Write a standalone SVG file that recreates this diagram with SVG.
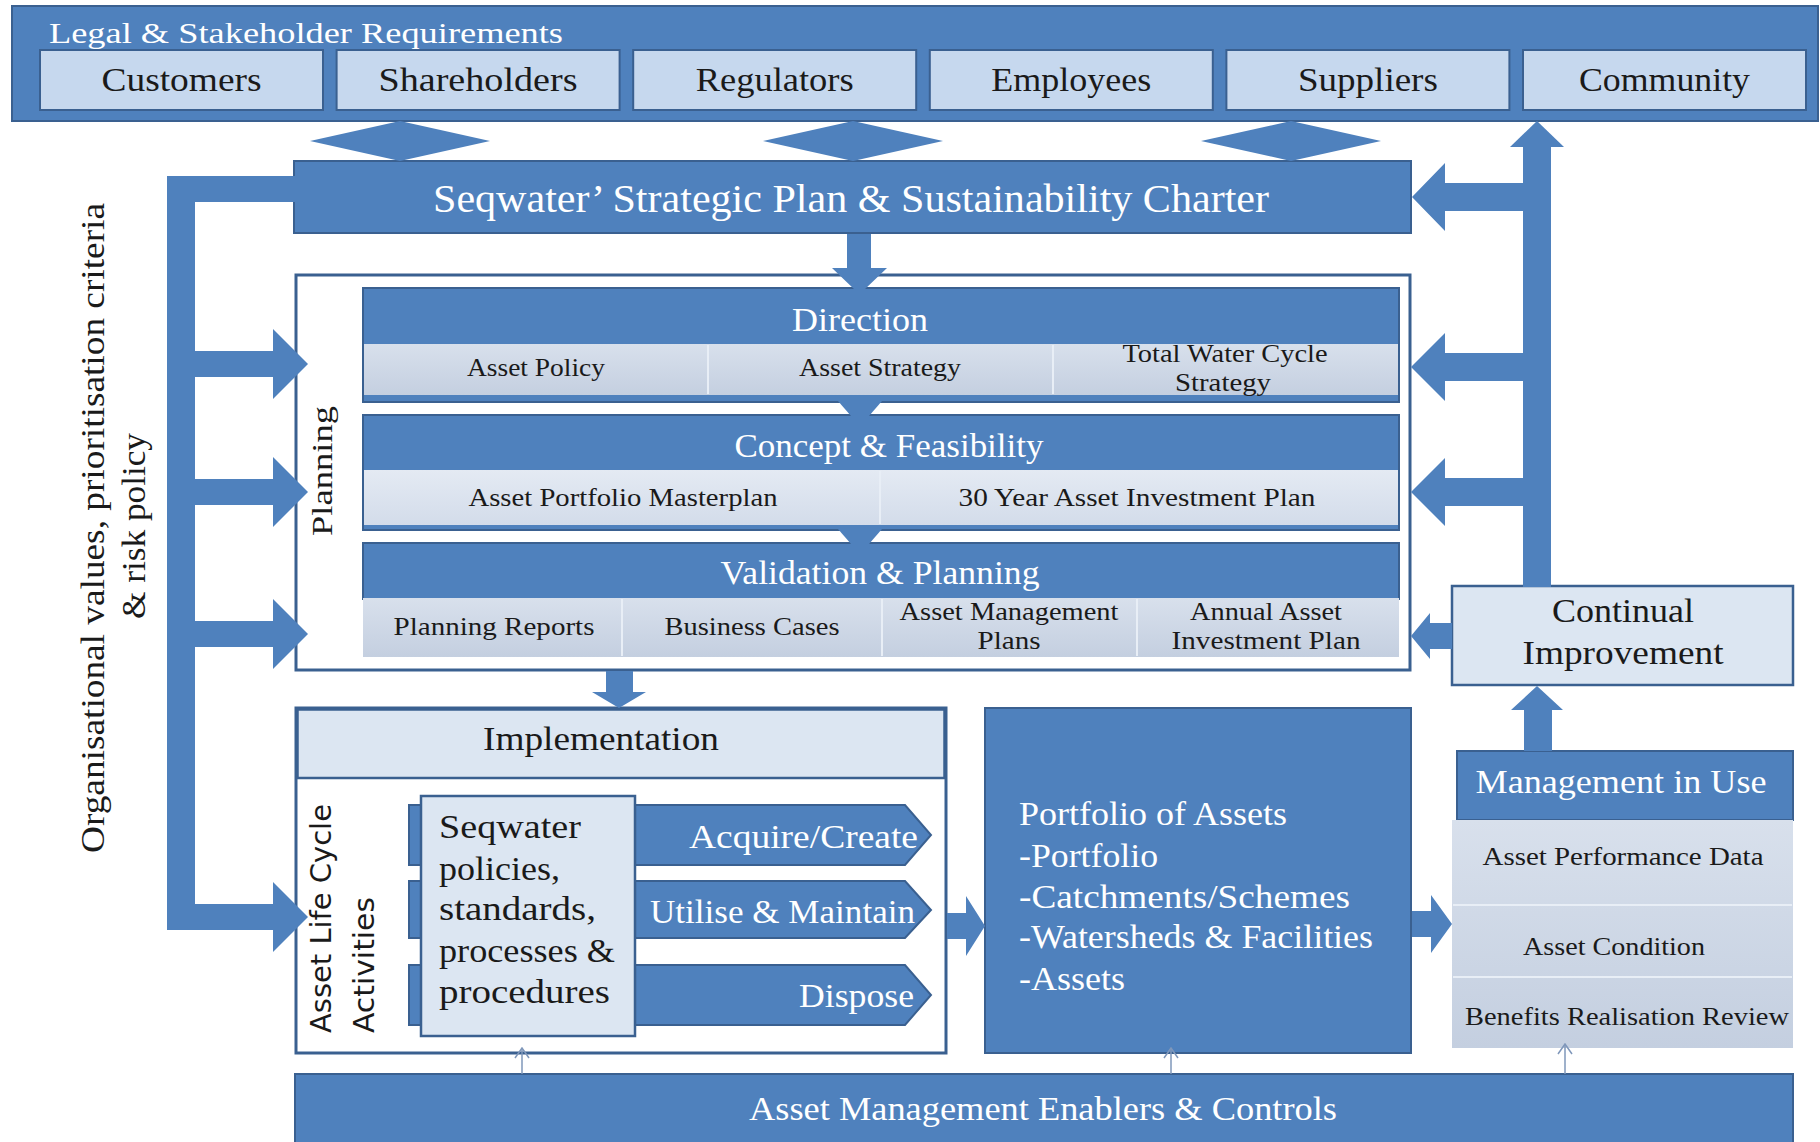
<svg xmlns="http://www.w3.org/2000/svg" width="1820" height="1142" viewBox="0 0 1820 1142">
<defs>
<style>
.dk{fill:#4F81BD;stroke:#3A6090;stroke-width:2}
.bl{fill:#4F81BD}
.lt{fill:#C6D8EE;stroke:#3A6090;stroke-width:2}
.pale{fill:#DCE6F2;stroke:#3A6090;stroke-width:2.5}
.frame{fill:#FFFFFF;stroke:#3A6090;stroke-width:3}
.t{font-family:"Liberation Serif","Times New Roman",serif;fill:#1A1A1A}
.w{font-family:"Liberation Serif","Times New Roman",serif;fill:#FFFFFF}
.s{font-family:"DejaVu Sans","Liberation Sans",Verdana,sans-serif;fill:#1A1A1A}
.div{stroke:#E8EEF6;stroke-width:2}
.thin{stroke:#7F97BA;stroke-width:1.5;fill:none}
</style>
<linearGradient id="g1" x1="0" y1="0" x2="0" y2="1">
<stop offset="0" stop-color="#D8E0EC"/><stop offset="1" stop-color="#C4CFE0"/>
</linearGradient>
<linearGradient id="g2" x1="0" y1="0" x2="0" y2="1">
<stop offset="0" stop-color="#E4EAF3"/><stop offset="1" stop-color="#D3DCEA"/>
</linearGradient>
<marker id="open" markerWidth="12" markerHeight="18" refX="11" refY="8" orient="auto" markerUnits="userSpaceOnUse" viewBox="0 0 12 16">
<path d="M1,1 L11,8 L1,15" fill="none" stroke="#7F97BA" stroke-width="1.5"/>
</marker>
</defs>

<!-- Legal & Stakeholder Requirements -->
<g id="stakeholders">
<rect class="dk" x="12" y="6" width="1806" height="115"/>
<text class="w" x="49" y="43" font-size="30" textLength="514" lengthAdjust="spacingAndGlyphs">Legal &amp; Stakeholder Requirements</text>
<g id="customers"><rect class="lt" x="40" y="50" width="283" height="60"/><text class="t" x="181.5" y="91" font-size="33" text-anchor="middle" textLength="160" lengthAdjust="spacingAndGlyphs">Customers</text></g>
<g id="shareholders"><rect class="lt" x="336.6" y="50" width="283" height="60"/><text class="t" x="478" y="91" font-size="33" text-anchor="middle" textLength="199" lengthAdjust="spacingAndGlyphs">Shareholders</text></g>
<g id="regulators"><rect class="lt" x="633.2" y="50" width="283" height="60"/><text class="t" x="774.7" y="91" font-size="33" text-anchor="middle" textLength="158" lengthAdjust="spacingAndGlyphs">Regulators</text></g>
<g id="employees"><rect class="lt" x="929.8" y="50" width="283" height="60"/><text class="t" x="1071.3" y="91" font-size="33" text-anchor="middle" textLength="160" lengthAdjust="spacingAndGlyphs">Employees</text></g>
<g id="suppliers"><rect class="lt" x="1226.4" y="50" width="283" height="60"/><text class="t" x="1367.9" y="91" font-size="33" text-anchor="middle" textLength="140" lengthAdjust="spacingAndGlyphs">Suppliers</text></g>
<g id="community"><rect class="lt" x="1523" y="50" width="283" height="60"/><text class="t" x="1664.5" y="91" font-size="33" text-anchor="middle" textLength="171" lengthAdjust="spacingAndGlyphs">Community</text></g>
</g>

<!-- Strategic plan -->
<g id="strategic-plan">
<rect class="dk" x="294" y="161" width="1117" height="72"/>
<text class="w" x="851" y="212" font-size="40" text-anchor="middle" textLength="836" lengthAdjust="spacingAndGlyphs">Seqwater’ Strategic Plan &amp; Sustainability Charter</text>
</g>

<!-- Side label -->
<g id="org-values">
<text class="t" transform="translate(104,528) rotate(-90)" font-size="33" text-anchor="middle" textLength="650" lengthAdjust="spacingAndGlyphs">Organisational values, prioritisation criteria</text>
<text class="t" transform="translate(145,526) rotate(-90)" font-size="33" text-anchor="middle" textLength="186" lengthAdjust="spacingAndGlyphs">&amp; risk policy</text>
</g>

<!-- Planning -->
<g id="planning">
<rect class="frame" x="296" y="275" width="1114" height="395"/>
<text class="t" transform="translate(332,471) rotate(-90)" font-size="30" text-anchor="middle" textLength="130" lengthAdjust="spacingAndGlyphs">Planning</text>

<g id="direction">
<rect class="dk" x="363" y="288" width="1036" height="114"/>
<rect x="364" y="344" width="1034" height="51" fill="url(#g1)"/>
<line class="div" x1="708" y1="345" x2="708" y2="394"/>
<line class="div" x1="1053" y1="345" x2="1053" y2="394"/>
<text class="w" x="860" y="331" font-size="33" text-anchor="middle" textLength="136" lengthAdjust="spacingAndGlyphs">Direction</text>
<text class="t" x="536" y="376" font-size="26" text-anchor="middle" textLength="138" lengthAdjust="spacingAndGlyphs">Asset Policy</text>
<text class="t" x="880" y="376" font-size="26" text-anchor="middle" textLength="162" lengthAdjust="spacingAndGlyphs">Asset Strategy</text>
<text class="t" x="1225" y="362" font-size="26" text-anchor="middle" textLength="205" lengthAdjust="spacingAndGlyphs">Total Water Cycle</text>
<text class="t" x="1223" y="391" font-size="26" text-anchor="middle" textLength="96" lengthAdjust="spacingAndGlyphs">Strategy</text>
</g>

<g id="concept">
<rect class="dk" x="363" y="415" width="1036" height="115"/>
<rect x="364" y="470" width="1034" height="55" fill="url(#g2)"/>
<line class="div" x1="880" y1="471" x2="880" y2="524"/>
<text class="w" x="889" y="457" font-size="33" text-anchor="middle" textLength="309" lengthAdjust="spacingAndGlyphs">Concept &amp; Feasibility</text>
<text class="t" x="623" y="506" font-size="26" text-anchor="middle" textLength="309" lengthAdjust="spacingAndGlyphs">Asset Portfolio Masterplan</text>
<text class="t" x="1137" y="506" font-size="26" text-anchor="middle" textLength="357" lengthAdjust="spacingAndGlyphs">30 Year Asset Investment Plan</text>
</g>

<g id="validation">
<rect class="dk" x="363" y="543" width="1036" height="56"/>
<rect x="363" y="598" width="1036" height="59" fill="url(#g1)"/>
<line class="div" x1="622" y1="599" x2="622" y2="656"/>
<line class="div" x1="882" y1="599" x2="882" y2="656"/>
<line class="div" x1="1137" y1="599" x2="1137" y2="656"/>
<text class="w" x="880" y="584" font-size="33" text-anchor="middle" textLength="319" lengthAdjust="spacingAndGlyphs">Validation &amp; Planning</text>
<text class="t" x="494" y="635" font-size="26" text-anchor="middle" textLength="201" lengthAdjust="spacingAndGlyphs">Planning Reports</text>
<text class="t" x="752" y="635" font-size="26" text-anchor="middle" textLength="175" lengthAdjust="spacingAndGlyphs">Business Cases</text>
<text class="t" x="1009" y="620" font-size="26" text-anchor="middle" textLength="219" lengthAdjust="spacingAndGlyphs">Asset Management</text>
<text class="t" x="1009" y="649" font-size="26" text-anchor="middle" textLength="63" lengthAdjust="spacingAndGlyphs">Plans</text>
<text class="t" x="1266" y="620" font-size="26" text-anchor="middle" textLength="152" lengthAdjust="spacingAndGlyphs">Annual Asset</text>
<text class="t" x="1266" y="649" font-size="26" text-anchor="middle" textLength="189" lengthAdjust="spacingAndGlyphs">Investment Plan</text>
</g>
</g>

<!-- Continual improvement -->
<g id="continual-improvement">
<rect class="pale" x="1452" y="586" width="341" height="99"/>
<text class="t" x="1623" y="622" font-size="33" text-anchor="middle" textLength="142" lengthAdjust="spacingAndGlyphs">Continual</text>
<text class="t" x="1623" y="664" font-size="33" text-anchor="middle" textLength="201" lengthAdjust="spacingAndGlyphs">Improvement</text>
</g>

<!-- Implementation -->
<g id="implementation">
<rect class="frame" x="296" y="708" width="650" height="345"/>
<rect class="pale" x="297.5" y="709.5" width="647" height="68.5"/>
<text class="t" x="601" y="750" font-size="33" text-anchor="middle" textLength="236" lengthAdjust="spacingAndGlyphs">Implementation</text>
<text class="s" transform="translate(331,1033) rotate(-90)" font-size="29" textLength="229" lengthAdjust="spacingAndGlyphs">Asset Life Cycle</text>
<text class="s" transform="translate(374,1033) rotate(-90)" font-size="29" textLength="136" lengthAdjust="spacingAndGlyphs">Activities</text>
<g id="acquire">
<polygon class="dk" points="409,805 905,805 931,835 905,865 409,865"/>
<text class="w" x="918" y="848" font-size="33" text-anchor="end" textLength="229" lengthAdjust="spacingAndGlyphs">Acquire/Create</text>
</g>
<g id="utilise">
<polygon class="dk" points="409,881 905,881 931,910 905,938 409,938"/>
<text class="w" x="915" y="923" font-size="33" text-anchor="end" textLength="265" lengthAdjust="spacingAndGlyphs">Utilise &amp; Maintain</text>
</g>
<g id="dispose">
<polygon class="dk" points="409,965 905,965 931,995 905,1025 409,1025"/>
<text class="w" x="914" y="1007" font-size="33" text-anchor="end" textLength="115" lengthAdjust="spacingAndGlyphs">Dispose</text>
</g>
<g id="policies">
<rect class="pale" x="421" y="796" width="214" height="240"/>
<text class="t" x="439" y="838" font-size="33" textLength="142" lengthAdjust="spacingAndGlyphs">Seqwater</text>
<text class="t" x="439" y="880" font-size="33" textLength="121" lengthAdjust="spacingAndGlyphs">policies,</text>
<text class="t" x="439" y="920" font-size="33" textLength="157" lengthAdjust="spacingAndGlyphs">standards,</text>
<text class="t" x="439" y="962" font-size="33" textLength="176" lengthAdjust="spacingAndGlyphs">processes &amp;</text>
<text class="t" x="439" y="1003" font-size="33" textLength="171" lengthAdjust="spacingAndGlyphs">procedures</text>
</g>
</g>

<!-- Portfolio of assets -->
<g id="portfolio">
<rect class="dk" x="985" y="708" width="426" height="345"/>
<text class="w" x="1019" y="825" font-size="33" textLength="268" lengthAdjust="spacingAndGlyphs">Portfolio of Assets</text>
<text class="w" x="1019" y="867" font-size="33" textLength="139" lengthAdjust="spacingAndGlyphs">-Portfolio</text>
<text class="w" x="1019" y="908" font-size="33" textLength="331" lengthAdjust="spacingAndGlyphs">-Catchments/Schemes</text>
<text class="w" x="1019" y="948" font-size="33" textLength="354" lengthAdjust="spacingAndGlyphs">-Watersheds &amp; Facilities</text>
<text class="w" x="1019" y="990" font-size="33" textLength="106" lengthAdjust="spacingAndGlyphs">-Assets</text>
</g>

<!-- Management in use -->
<g id="management-in-use">
<rect class="dk" x="1457" y="751" width="336" height="69"/>
<rect x="1452" y="820" width="341" height="228" fill="url(#g1)"/>
<line class="div" x1="1453" y1="905" x2="1792" y2="905"/>
<line class="div" x1="1453" y1="977" x2="1792" y2="977"/>
<text class="w" x="1621" y="793" font-size="33" text-anchor="middle" textLength="291" lengthAdjust="spacingAndGlyphs">Management in Use</text>
<text class="t" x="1623" y="865" font-size="26" text-anchor="middle" textLength="281" lengthAdjust="spacingAndGlyphs">Asset Performance  Data</text>
<text class="t" x="1614" y="955" font-size="26" text-anchor="middle" textLength="182" lengthAdjust="spacingAndGlyphs">Asset Condition</text>
<text class="t" x="1627" y="1025" font-size="26" text-anchor="middle" textLength="324" lengthAdjust="spacingAndGlyphs">Benefits Realisation Review</text>
</g>

<!-- Enablers -->
<g id="enablers">
<rect class="dk" x="295" y="1074" width="1498" height="80"/>
<text class="w" x="1043" y="1120" font-size="33" text-anchor="middle" textLength="588" lengthAdjust="spacingAndGlyphs">Asset Management  Enablers &amp; Controls</text>
</g>

<!-- Connectors -->
<g id="connectors">
<!-- double arrows between stakeholders and strategic plan -->
<polygon class="bl" points="400,121 490,141 400,161 310,141"/>
<polygon class="bl" points="853,121 943,141 853,161 763,141"/>
<polygon class="bl" points="1291,121 1381,141 1291,161 1201,141"/>
<!-- left feed -->
<rect class="bl" x="167" y="176" width="28" height="754"/>
<rect class="bl" x="167" y="176" width="128" height="26"/>
<polygon class="bl" points="195,351 273,351 273,329 308,364 273,399 273,377 195,377"/>
<polygon class="bl" points="195,479 273,479 273,457 308,492 273,527 273,505 195,505"/>
<polygon class="bl" points="195,621 273,621 273,599 308,634 273,669 273,647 195,647"/>
<polygon class="bl" points="195,904 273,904 273,882 308,917 273,952 273,930 195,930"/>
<!-- right feedback -->
<rect class="bl" x="1523" y="146" width="28" height="441"/>
<polygon class="bl" points="1510,147 1537,121 1564,147"/>
<polygon class="bl" points="1523,183 1445,183 1445,163 1412,197 1445,231 1445,211 1523,211"/>
<polygon class="bl" points="1523,353 1445,353 1445,333 1411,367 1445,401 1445,381 1523,381"/>
<polygon class="bl" points="1523,478 1445,478 1445,458 1411,492 1445,526 1445,506 1523,506"/>
<polygon class="bl" points="1452,623 1430,623 1430,613 1411,636 1430,659 1430,649 1452,649"/>
<polygon class="bl" points="1524,751 1524,710 1511,710 1537,686 1563,710 1552,710 1552,751"/>
<!-- strategic to direction -->
<polygon class="bl" points="847,234 871,234 871,268 887,268 864,290 855,290 832,268 847,268"/>
<polygon class="bl" points="838,401 882,401 869,416 851,416"/>
<polygon class="bl" points="838,529 882,529 869,544 851,544"/>
<!-- planning to implementation -->
<polygon class="bl" points="606,671 633,671 633,692 646,692 619,708 592,692 606,692"/>
<!-- implementation to portfolio -->
<polygon class="bl" points="947,913 966,913 966,896 985,926 966,956 966,939 947,939"/>
<!-- portfolio to management -->
<polygon class="bl" points="1412,911 1431,911 1431,895 1452,924 1431,953 1431,937 1412,937"/>
<!-- enablers thin arrows -->
<line class="thin" x1="522" y1="1074" x2="522" y2="1048" marker-end="url(#open)"/>
<line class="thin" x1="1171" y1="1074" x2="1171" y2="1048" marker-end="url(#open)"/>
<line class="thin" x1="1565" y1="1074" x2="1565" y2="1044" marker-end="url(#open)"/>
</g>
</svg>
